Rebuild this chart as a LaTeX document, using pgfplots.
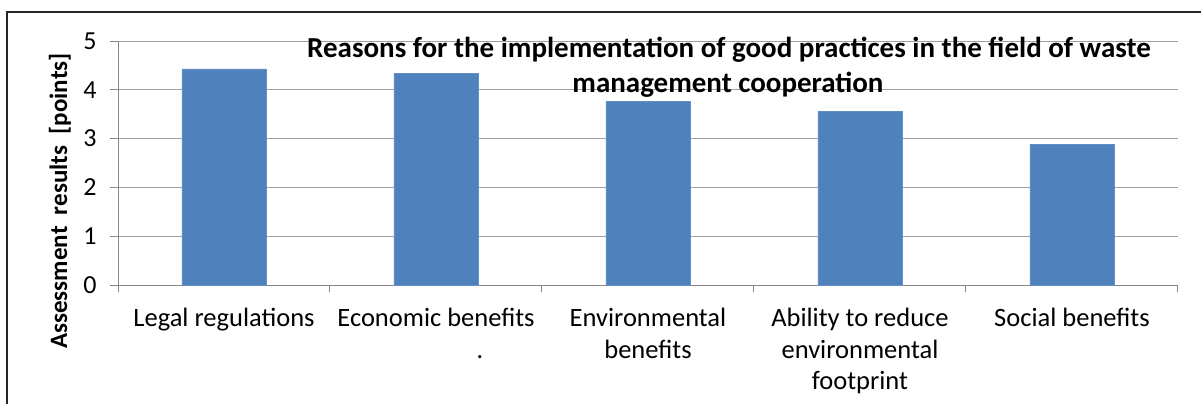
\documentclass[border=0pt]{standalone}
\usepackage{pgfplots}
\pgfplotsset{compat=1.18}
\usepackage{fontspec}
\setmainfont{Carlito}
\definecolor{barblue}{HTML}{4F81BD}
\definecolor{gridc}{RGB}{160,160,160}
\definecolor{axisc}{RGB}{134,134,134}
\begin{document}
\begin{tikzpicture}[x=1pt,y=1pt]
\useasboundingbox (-118,-119) rectangle (1083,285);
\begin{axis}[
  at={(0,0)}, anchor=south west,
  scale only axis,
  width=1060pt, height=244pt,
  xmin=-0.5, xmax=4.5,
  ymin=0, ymax=5,
  ytick={0,1,2,3,4,5},
  xtick={0,1,2,3,4},
  xticklabels={Legal regulations,Economic benefits,Environmental\\benefits,Ability to reduce\\environmental\\footprint,Social benefits},
  minor xtick={-0.5,0.5,1.5,2.5,3.5,4.5},
  major x tick style={draw=none},
  minor tick length=7pt,
  major tick length=8pt,
  tick align=outside,
  xtick pos=bottom, ytick pos=left,
  ymajorgrids, grid style={gridc, line width=1pt},
  axis line style={axisc, line width=1pt},
  tick style={axisc, line width=1pt},
  axis x line*=bottom, axis y line*=left,
  separate axis lines,
  y axis line style={shorten <=-7pt},
  /pgf/number format/assume math mode=true,
  ticklabel style={font=\fontsize{26}{30}\selectfont, text=black},
  yticklabel style={xshift=-10pt},
  xticklabel style={font=\fontsize{26.5}{31.5}\selectfont, align=center, anchor=north, yshift=-12pt},
  clip=false,
]
\addplot[ybar, bar width=84pt, fill=barblue, draw=barblue!90!white] coordinates {
  (0,4.43) (1,4.33) (2,3.77) (3,3.56) (4,2.88)
};
\end{axis}
\draw[black!85, line width=1.3pt] (-111,-119) -- (-111,273) -- (1083,273);
\node[font=\fontsize{29}{35}\selectfont\bfseries, anchor=base, inner sep=0pt] at (611,227) {Reasons for the implementation of good practices in the field of waste};
\node[font=\fontsize{29}{35}\selectfont\bfseries, anchor=base, inner sep=0pt] at (610,192) {management cooperation};
\node[font=\fontsize{25}{30}\selectfont\bfseries, rotate=90, inner sep=0pt] at (-58,84) {Assessment\ \ results\ \ [points]};
\node[font=\fontsize{26}{30}\selectfont, anchor=base, inner sep=0pt] at (362,-73) {.};
\end{tikzpicture}
\end{document}
